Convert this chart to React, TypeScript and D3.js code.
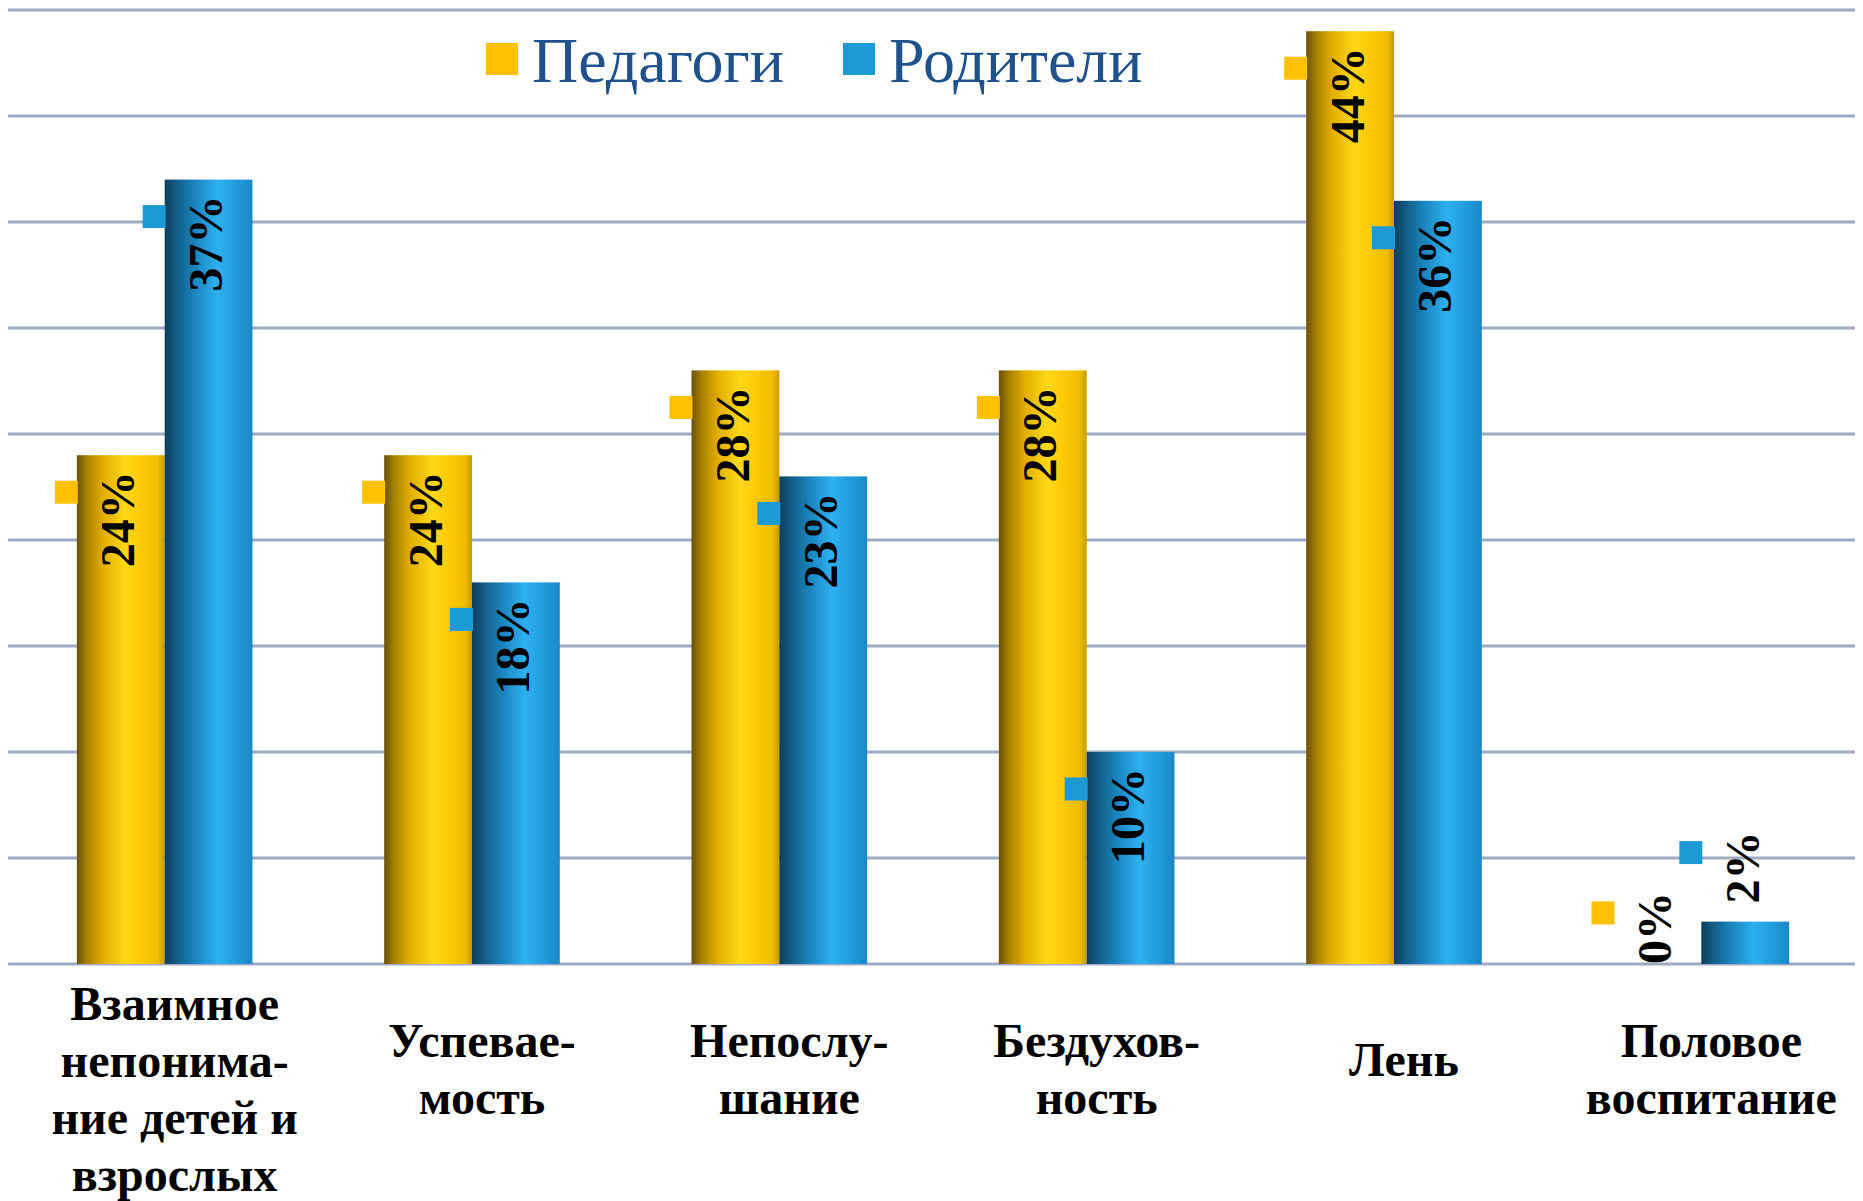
import * as d3 from "d3";

const categories = ["Взаимное", "Успеваемость", "Непослушание", "Бездуховность", "Лень", "Половое воспитание"];
const categoryLines = [
  ["Взаимное", "непонима-", "ние детей и", "взрослых"],
  ["Успевае-", "мость"],
  ["Непослу-", "шание"],
  ["Бездухов-", "ность"],
  ["Лень"],
  ["Половое", "воспитание"],
];
const seriesNames = ["Педагоги", "Родители"];
const teachers = [24, 24, 28, 28, 44, 0];
const parents = [37, 18, 23, 10, 36, 2];
const gridTicks = [0, 5, 10, 15, 20, 25, 30, 35, 40, 45];

const W = 1863;
const H = 1201;
const FONT = "'Liberation Serif', 'Times New Roman', serif";

const keyColors = ["#FFC000", "#1B9AD6"];

export default function App() {
  const x = d3.scaleBand<string>().domain(categories).range([11, 1855]).padding(0);
  const xs = d3.scaleBand<string>().domain(seriesNames).range([0, x.bandwidth()]).paddingInner(0).paddingOuter(0.75);
  const y = d3.scaleLinear().domain([0, 45]).range([964, 10]);

  const values = [teachers, parents];
  const labelFont = 48;

  const bars = categories.flatMap((c, ci) =>
    seriesNames.map((s, si) => {
      const v = values[si][ci];
      const x0 = (x(c) ?? 0) + (xs(s) ?? 0);
      const w = xs.bandwidth();
      const yTop = y(v);
      const h = y(0) - yTop;
      const label = `${v}%`;
      const textLen = label.length === 2 ? labelFont * 1.5 : labelFont * 2;
      const inside = h > textLen + 30;
      let textTop: number;
      let textBottom: number;
      if (inside) {
        textTop = yTop + 16;
        textBottom = textTop + textLen;
      } else {
        textBottom = yTop - Math.min(18, h / 2);
        textTop = textBottom - textLen;
      }
      return { c, ci, s, si, v, x0, w, yTop, h, label, inside, textTop, textBottom };
    })
  );

  return (
    <svg
      width={W}
      height={H}
      viewBox={`0 0 ${W} ${H}`}
      style={{ position: "absolute", left: 0, top: 0, background: "#fff" }}
    >
      <defs>
        <linearGradient id="gradGold" x1="0" x2="1" y1="0" y2="0">
          <stop offset="0%" stopColor="#6A5008" />
          <stop offset="12%" stopColor="#A98300" />
          <stop offset="30%" stopColor="#E2AE00" />
          <stop offset="55%" stopColor="#FFD817" />
          <stop offset="72%" stopColor="#FFCA08" />
          <stop offset="92%" stopColor="#F0BC00" />
          <stop offset="100%" stopColor="#C99A05" />
        </linearGradient>
        <linearGradient id="gradBlue" x1="0" x2="1" y1="0" y2="0">
          <stop offset="0%" stopColor="#0B3F5E" />
          <stop offset="14%" stopColor="#135D88" />
          <stop offset="35%" stopColor="#1A86C0" />
          <stop offset="60%" stopColor="#2EB0F0" />
          <stop offset="78%" stopColor="#22A0DE" />
          <stop offset="100%" stopColor="#1A88C6" />
        </linearGradient>
        <filter id="soft" x="-5%" y="-200%" width="110%" height="500%">
          <feGaussianBlur stdDeviation="0.6" />
        </filter>
      </defs>

      {/* gridlines */}
      <g filter="url(#soft)">
        {gridTicks.map((t) => (
          <line key={t} x1={8} x2={1855} y1={y(t)} y2={y(t)} stroke="#A0AAC2" strokeWidth={3.2} />
        ))}
      </g>

      {/* bars */}
      {bars.map((b) => (
        <rect
          key={`${b.ci}-${b.si}`}
          x={b.x0}
          y={b.yTop}
          width={b.w}
          height={b.h}
          fill={b.si === 0 ? "url(#gradGold)" : "url(#gradBlue)"}
        />
      ))}

      {/* data labels with legend keys */}
      {bars.map((b) => {
        const cx = b.x0 + b.w / 2 - 3;
        return (
          <g key={`l-${b.ci}-${b.si}`}>
            <rect x={b.x0 - 22} y={b.textTop + 21 - 11.5} width={23} height={23} fill={keyColors[b.si]} />
            <text
              transform={`translate(${cx},${b.inside ? b.textTop : b.textBottom}) rotate(-90)`}
              textAnchor={b.inside ? "end" : "start"}
              dominantBaseline="central"
              fontFamily={FONT}
              fontWeight="bold"
              fontSize={labelFont}
              fill="#000"
            >
              {b.label}
            </text>
          </g>
        );
      })}

      {/* category labels */}
      {categories.map((c, ci) => {
        const lines = categoryLines[ci];
        const n = lines.length;
        const cx = (x(c) ?? 0) + x.bandwidth() / 2 + 10;
        const lineH = 57;
        const blockCenter = 1059 + (n - 1) * 10;
        const first = blockCenter - ((n - 1) * lineH) / 2;
        return (
          <text
            key={c}
            textAnchor="middle"
            fontFamily={FONT}
            fontWeight="bold"
            fontSize={48}
            fill="#000"
          >
            {lines.map((ln, li) => (
              <tspan key={li} x={cx} y={first + li * lineH} dominantBaseline="central">
                {ln}
              </tspan>
            ))}
          </text>
        );
      })}

      {/* legend */}
      {seriesNames.map((s, si) => {
        const lx = si === 0 ? 486 : 843;
        return (
          <g key={s}>
            <rect x={lx} y={43} width={32} height={32} fill={keyColors[si]} />
            <text
              x={lx + 46}
              y={82}
              fontFamily={FONT}
              fontSize={64}
              fill="#1F528C"
            >
              {s}
            </text>
          </g>
        );
      })}
    </svg>
  );
}
